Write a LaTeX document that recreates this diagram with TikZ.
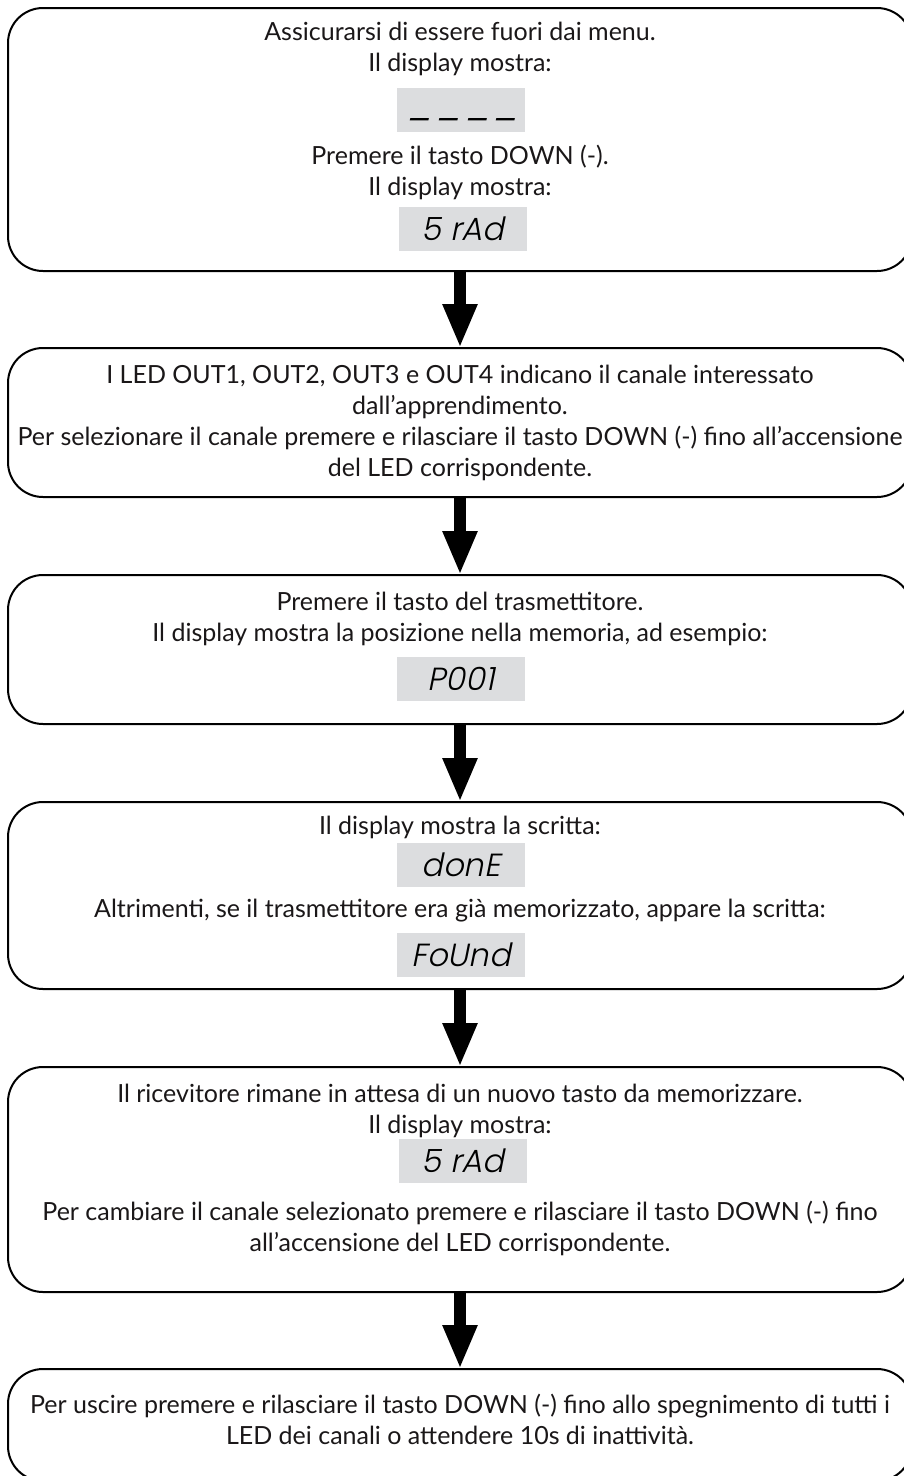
\documentclass[tikz,border=0pt]{standalone}
\usepackage{fontspec}
\setmainfont{Lato}
\newfontfamily\segfont{Poppins Light}[FakeSlant=0.2]
\usetikzlibrary{arrows.meta}
\definecolor{dispgray}{HTML}{DCDDDF}
\definecolor{txtc}{HTML}{1A1718}
\newcommand\segdash{\scalebox{1.5}[1.25]{-}}
\begin{document}
\begin{tikzpicture}[x=1pt,y=-1pt,
  box/.style={draw=black, line width=2pt, rounded corners=35pt, minimum width=904pt, inner sep=0pt, outer sep=0pt},
  txt/.style={anchor=base, font=\fontsize{25}{30}\selectfont, text=txtc, inner sep=0pt},
  disp/.style={fill=dispgray, minimum width=128pt, minimum height=44pt, inner sep=0pt, text height=22pt, text depth=0pt, font=\segfont\fontsize{32}{32}\selectfont},
  flow/.style={line width=12pt, -{Triangle[length=44pt,width=32pt]}}]
\useasboundingbox (0,0) rectangle (904,1476);

% boxes
\node[box, minimum height=263pt] (b1) at (460,139.5) {};
\node[box, minimum height=149pt] (b2) at (460,422.5) {};
\node[box, minimum height=149pt] (b3) at (460,649.5) {};
\node[box, minimum height=187pt] (b4) at (460,895.5) {};
\node[box, minimum height=225pt] (b5) at (460,1179.5) {};
\node[box, minimum height=112pt] (b6) at (460,1425) {};

% arrows
\draw[flow] (b1.south) -- (b2.north);
\draw[flow] (b2.south) -- (b3.north);
\draw[flow] (b3.south) -- (b4.north);
\draw[flow] (b4.south) -- (b5.north);
\draw[flow] (b5.south) -- (b6.north);

% box 1
\node[txt] (t11) at (460,40) {Assicurarsi di essere fuori dai menu.};
\node[txt] (t12) at (460,71) {Il display mostra:};
\node[disp] (d1) at (461,110) {\raisebox{-13pt}{\segdash\kern4pt\segdash\kern4pt\segdash\kern4pt\segdash}};
\node[txt] (t13) at (460,164) {Premere il tasto DOWN (-).};
\node[txt] (t14) at (460,195) {Il display mostra:};
\node[disp] (d2) at (463,229) {5 rAd};

% box 2
\node[txt] (t21) at (460,383) {I LED OUT1, OUT2, OUT3 e OUT4 indicano il canale interessato};
\node[txt] (t22) at (460,414) {dall’apprendimento.};
\node[txt] (t23) at (460,445) {Per selezionare il canale premere e rilasciare il tasto DOWN (-) fino all’accensione};
\node[txt] (t24) at (460,476) {del LED corrispondente.};

% box 3
\node[txt] (t31) at (460,610) {Premere il tasto del trasmettitore.};
\node[txt] (t32) at (460,641) {Il display mostra la posizione nella memoria, ad esempio:};
\node[disp] (d3) at (461,679) {P001};

% box 4
\node[txt] (t41) at (460,834) {Il display mostra la scritta:};
\node[disp] (d4) at (461,865) {donE};
\node[txt] (t42) at (460,917) {Altrimenti, se il trasmettitore era già memorizzato, appare la scritta:};
\node[disp] (d5) at (461,955) {FoUnd};

% box 5
\node[txt] (t51) at (460,1102) {Il ricevitore rimane in attesa di un nuovo tasto da memorizzare.};
\node[txt] (t52) at (460,1133) {Il display mostra:};
\node[disp] (d6) at (463,1161) {5 rAd};
\node[txt] (t53) at (460,1220) {Per cambiare il canale selezionato premere e rilasciare il tasto DOWN (-) fino};
\node[txt] (t54) at (460,1251) {all’accensione del LED corrispondente.};

% box 6
\node[txt] (t61) at (460,1413) {Per uscire premere e rilasciare il tasto DOWN (-) fino allo spegnimento di tutti i};
\node[txt] (t62) at (460,1444) {LED dei canali o attendere 10s di inattività.};
\end{tikzpicture}
\end{document}
